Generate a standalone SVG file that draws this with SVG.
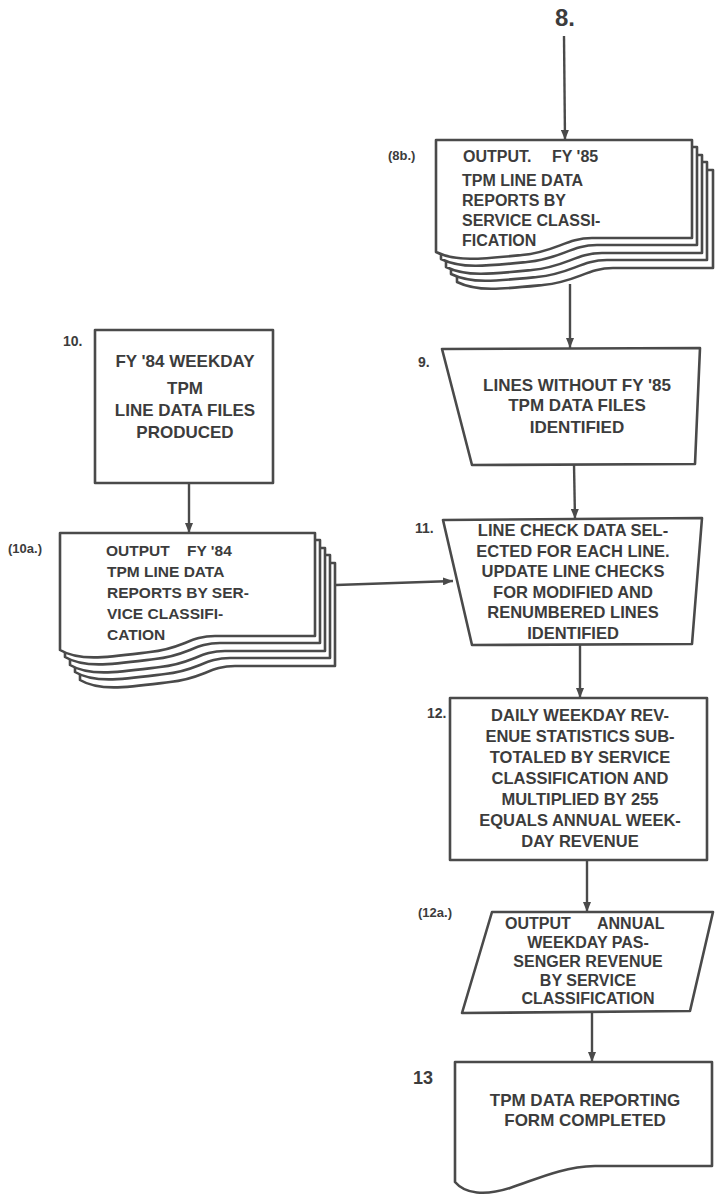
<svg xmlns="http://www.w3.org/2000/svg" width="721" height="1200" viewBox="0 0 721 1200">
<defs>
<style>
.shape{fill:#fff;stroke:#4a4a4a;stroke-width:2.6;stroke-linejoin:round}
.conn{fill:none;stroke:#4a4a4a;stroke-width:2.4}
.t{font-family:"Liberation Sans",Arial,sans-serif;font-weight:700;font-size:16.5px;fill:#3c3c3c}
.c{text-anchor:middle}
.lbl{font-family:"Liberation Sans",Arial,sans-serif;font-weight:700;font-size:13px;fill:#3c3c3c}
</style>
<marker id="arr" markerUnits="userSpaceOnUse" markerWidth="10" markerHeight="8" refX="10" refY="4" orient="auto">
<path d="M0,0 L10,4 L0,8 Z" fill="#4a4a4a"/>
</marker>
<path id="doc8b" d="M436,140 H692 V238 H592 C566,238 556,252 522,255 C482,259 456,262 436,252 Z"/>
<path id="doc10a" d="M60,533 H315 V636 H215 C190,636 182,649 150,652 C110,657 80,662 60,650 Z"/>
</defs>
<rect width="721" height="1200" fill="#fff"/>

<g id="connectors">
<line class="conn" x1="564" y1="36" x2="565" y2="140" marker-end="url(#arr)"/>
<line class="conn" x1="570" y1="284" x2="570" y2="348" marker-end="url(#arr)"/>
<line class="conn" x1="574" y1="464" x2="575" y2="519" marker-end="url(#arr)"/>
<line class="conn" x1="189" y1="483" x2="189" y2="533" marker-end="url(#arr)"/>
<line class="conn" x1="336" y1="585" x2="453" y2="581" marker-end="url(#arr)"/>
<line class="conn" x1="580" y1="644" x2="580" y2="698" marker-end="url(#arr)"/>
<line class="conn" x1="587" y1="860" x2="587" y2="912" marker-end="url(#arr)"/>
<line class="conn" x1="592" y1="1011" x2="592" y2="1062" marker-end="url(#arr)"/>
</g>

<g id="n8">
<text x="565" y="26" class="t c" style="font-size:24px">8.</text>
</g>

<g id="n8b">
<use href="#doc8b" class="shape" transform="translate(21,30)"/>
<use href="#doc8b" class="shape" transform="translate(15,22)"/>
<use href="#doc8b" class="shape" transform="translate(10,15)"/>
<use href="#doc8b" class="shape" transform="translate(5,7)"/>
<use href="#doc8b" class="shape"/>
<text x="388" y="160" class="lbl">(8b.)</text>
<text x="463" y="162" class="t" style="font-size:16px">OUTPUT.</text>
<text x="552" y="162" class="t" style="font-size:16px">FY '85</text>
<text x="462" y="186" class="t" style="font-size:16px">TPM LINE DATA</text>
<text x="462" y="206" class="t" style="font-size:16px">REPORTS BY</text>
<text x="462" y="226" class="t" style="font-size:16px">SERVICE CLASSI-</text>
<text x="462" y="246" class="t" style="font-size:16px">FICATION</text>
</g>

<g id="n9">
<polygon class="shape" points="442,349 700,348 695,464 472,465"/>
<text x="418" y="367" class="lbl" style="font-size:14px">9.</text>
<text x="577" y="391" class="t c" style="font-size:17px">LINES WITHOUT FY '85</text>
<text x="577" y="411" class="t c" style="font-size:17px">TPM DATA FILES</text>
<text x="577" y="433" class="t c" style="font-size:17px">IDENTIFIED</text>
</g>

<g id="n10">
<rect class="shape" x="95" y="330" width="178" height="153"/>
<text x="63" y="346" class="lbl" style="font-size:14px">10.</text>
<text x="185" y="367" class="t c" style="font-size:17px">FY '84 WEEKDAY</text>
<text x="185" y="394" class="t c" style="font-size:17px">TPM</text>
<text x="185" y="416" class="t c" style="font-size:17px">LINE DATA FILES</text>
<text x="185" y="438" class="t c" style="font-size:17px">PRODUCED</text>
</g>

<g id="n10a">
<use href="#doc10a" class="shape" transform="translate(20,30)"/>
<use href="#doc10a" class="shape" transform="translate(15,22)"/>
<use href="#doc10a" class="shape" transform="translate(10,15)"/>
<use href="#doc10a" class="shape" transform="translate(5,7)"/>
<use href="#doc10a" class="shape"/>
<text x="8" y="553" class="lbl">(10a.)</text>
<text x="106" y="556" class="t" style="font-size:15.5px">OUTPUT</text>
<text x="187" y="556" class="t" style="font-size:15.5px">FY '84</text>
<text x="107" y="577" class="t" style="font-size:15.5px">TPM LINE DATA</text>
<text x="107" y="598" class="t" style="font-size:15.5px">REPORTS BY SER-</text>
<text x="107" y="619" class="t" style="font-size:15.5px">VICE CLASSIFI-</text>
<text x="107" y="640" class="t" style="font-size:15.5px">CATION</text>
</g>

<g id="n11">
<polygon class="shape" points="443,520 702,518 692,644 472,645"/>
<text x="415" y="533" class="lbl" style="font-size:14px">11.</text>
<text x="573" y="536" class="t c">LINE CHECK DATA SEL-</text>
<text x="573" y="557" class="t c">ECTED FOR EACH LINE.</text>
<text x="573" y="577" class="t c">UPDATE  LINE CHECKS</text>
<text x="573" y="598" class="t c">FOR MODIFIED AND</text>
<text x="573" y="618" class="t c">RENUMBERED LINES</text>
<text x="573" y="639" class="t c">IDENTIFIED</text>
</g>

<g id="n12">
<rect class="shape" x="450" y="698" width="257" height="162"/>
<text x="427" y="718" class="lbl" style="font-size:14px">12.</text>
<text x="580" y="721" class="t c">DAILY WEEKDAY REV-</text>
<text x="580" y="742" class="t c">ENUE STATISTICS SUB-</text>
<text x="580" y="763" class="t c">TOTALED BY SERVICE</text>
<text x="580" y="784" class="t c">CLASSIFICATION AND</text>
<text x="580" y="805" class="t c">MULTIPLIED BY 255</text>
<text x="580" y="826" class="t c">EQUALS ANNUAL WEEK-</text>
<text x="580" y="847" class="t c">DAY REVENUE</text>
</g>

<g id="n12a">
<polygon class="shape" points="492,912 713,912 690,1011 462,1013"/>
<text x="418" y="917" class="lbl">(12a.)</text>
<text x="505" y="929" class="t" style="font-size:16px">OUTPUT</text>
<text x="597" y="929" class="t" style="font-size:16px">ANNUAL</text>
<text x="588" y="948" class="t c" style="font-size:16px">WEEKDAY PAS-</text>
<text x="588" y="967" class="t c" style="font-size:16px">SENGER REVENUE</text>
<text x="588" y="986" class="t c" style="font-size:16px">BY SERVICE</text>
<text x="588" y="1004" class="t c" style="font-size:16px">CLASSIFICATION</text>
</g>

<g id="n13">
<path class="shape" d="M455,1062 H712 V1166 H595 C560,1167 535,1180 510,1188 C485,1196 465,1194 455,1182 Z"/>
<text x="413" y="1084" class="t" style="font-size:18px">13</text>
<text x="585" y="1106" class="t c" style="font-size:17px">TPM DATA REPORTING</text>
<text x="585" y="1126" class="t c" style="font-size:17px">FORM COMPLETED</text>
</g>
</svg>
